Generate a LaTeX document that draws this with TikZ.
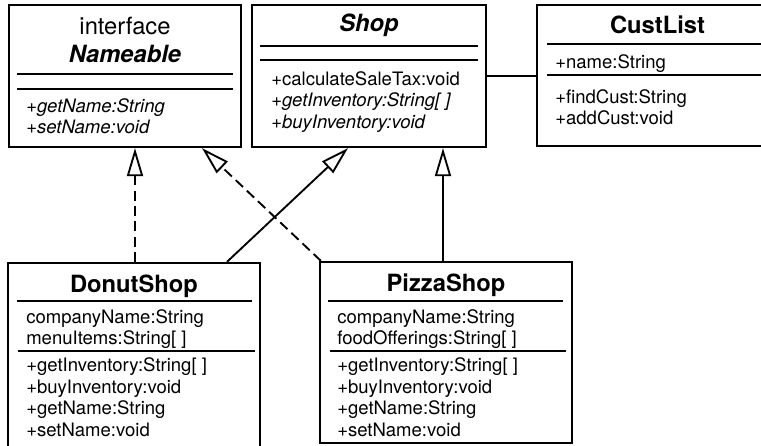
\documentclass[tikz,border=0pt]{standalone}
\usepackage{fontspec}
\setmainfont{TeX Gyre Heros}
\usetikzlibrary{arrows.meta}

\newcommand{\umlbody}{\fontsize{13.9}{16.1}\selectfont}
\newcommand{\umltitle}{\fontsize{17.8}{21}\selectfont}

\begin{document}
\begin{tikzpicture}[x=0.75pt,y=-0.75pt,>={Triangle[open,length=21pt,width=12pt]},
    classbox/.style={draw,line width=1.7pt,inner sep=0pt},
    title/.style={inner sep=0pt,font=\umltitle\bfseries},
    member/.style={inner sep=0pt,anchor=north west,align=left,font=\umlbody},
    divline/.style={line width=0.85pt},
    link/.style={line width=1.4pt},
    realize/.style={link,dash pattern=on 7.5pt off 4pt}]
                \useasboundingbox (0,0) rectangle (761,446);
                \clip (0,0) rectangle (761,446);

                % class boxes
                \node[classbox,minimum width=174pt,minimum height=106.5pt] (nameable) at(125,76) {};
                \node[classbox,minimum width=175.5pt,minimum height=106.5pt] (shop) at(369,76) {};
                \node[classbox,minimum width=180.75pt,minimum height=105.75pt] (custlist) at(657.5,75.5) {};
                \node[classbox,minimum width=189pt,minimum height=150pt] (donut) at(134,363) {};
                \node[classbox,minimum width=189pt,minimum height=135.75pt] (pizza) at(446,352.5) {};

                % compartments
                \draw[divline] (17,74)--(233,74);
                \draw[divline] (17,89)--(233,89);
                \draw[divline] (260,46)--(478,46);
                \draw[divline] (260,60)--(478,60);
                \draw[divline] (547,44)--(770,44);
                \draw[divline] (547,75)--(770,75);
                \draw[divline] (17,301)--(252,301);
                \draw[divline] (18,351)--(255,351);
                \draw[divline] (328,301)--(563,301);
                \draw[divline] (330,351)--(566,351);

                \node[title,font=\umltitle] (nameable-stereo) at(125,26) {interface};
                \node[title,font=\umltitle\bfseries\itshape] (nameable-name) at(125,54) {Nameable};
                \node[member,font=\umlbody\itshape] (nameable-ops) at(26,97) {\strut+getName:String\\+setName:void};

                \node[title,font=\umltitle\bfseries\itshape] (shop-name) at(369,25) {Shop};
                \node[member] (shop-ops) at(271,70) {\strut+calculateSaleTax:void\\\textit{+getInventory:String[ ]}\\\textit{+buyInventory:void}};

                \node[title] (custlist-name) at(657.5,24.5) {CustList};
                \node[member] (custlist-attr) at(555,53) {\strut+name:String};
                \node[member] (custlist-ops) at(555,88) {\strut+findCust:String\\+addCust:void};

                \node[title] (donut-name) at(134,286) {DonutShop};
                \node[member] (donut-attr) at(26,308) {\strut companyName:String\\menuItems:String[ ]};
                \node[member] (donut-ops) at(26,356.5) {\strut+getInventory:String[ ]\\+buyInventory:void\\+getName:String\\+setName:void};

                \node[title] (pizza-name) at(446,285) {PizzaShop};
                \node[member] (pizza-attr) at(337,308) {\strut companyName:String\\foodOfferings:String[ ]};
                \node[member] (pizza-ops) at(337,356.5) {\strut+getInventory:String[ ]\\+buyInventory:void\\+getName:String\\+setName:void};

                % relations
                \draw[realize,->] ([xshift=0.75pt]donut.north)--([xshift=0.75pt]donut.north |- nameable.south);
                \draw[realize,->] ([xshift=1.5pt]pizza.north west)--([xshift=57.75pt]nameable.south);
                \draw[link,->] ([xshift=69.75pt]donut.north)--([xshift=-15.75pt]shop.south);
                \draw[link,->] ([xshift=-2.25pt]pizza.north)--([xshift=-2.25pt]pizza.north |- shop.south);
                \draw[link] (shop.east)--(shop.east -| custlist.west);
            \end{tikzpicture}
\end{document}
